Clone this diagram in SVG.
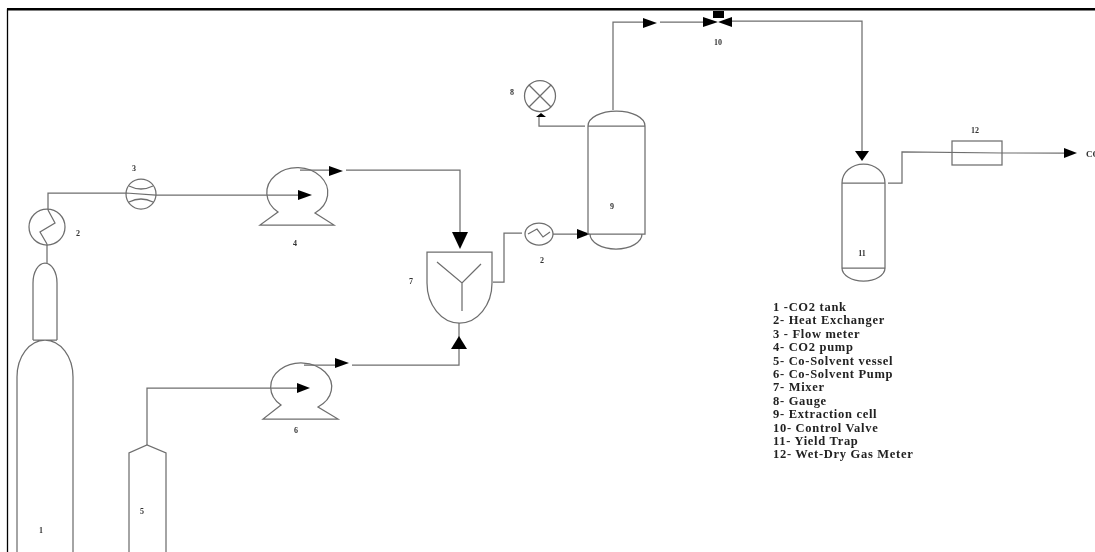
<svg xmlns="http://www.w3.org/2000/svg" width="1095" height="552" viewBox="0 0 1095 552">
<style>
.l{fill:none;stroke:#6e6e6e;stroke-width:1.25}
.a{fill:#000;stroke:none}
.n{font:bold 8px "Liberation Serif",serif;fill:#333;text-anchor:middle}
.t{font:bold 12.5px "Liberation Serif",serif;fill:#222;letter-spacing:.7px}
</style>
<defs><filter id="b" x="-2%" y="-2%" width="104%" height="104%"><feGaussianBlur stdDeviation="0.35"/></filter></defs>
<rect width="1095" height="552" fill="#fff"/>
<g id="frame"><path d="M7.500 552V9.300H1095" fill="none" stroke="#000" stroke-width="1.300"/><path d="M7 9.300H1095" stroke="#000" stroke-width="2.500"/></g>
<g filter="url(#b)">
<g id="connectors">
<path class="l" d="M47 244V263"/>
<path class="l" d="M48 210V193H126L156 195H300"/>
<path class="a" d="M312 195L298 190V200Z"/>
<path class="l" d="M300 170H330M346 170H460V233"/>
<path class="a" d="M343 171L329 166V176Z"/>
<path class="a" d="M460 249L452 232H468Z"/>
<path class="l" d="M147 445V388H298"/>
<path class="a" d="M310 388L297 383V393Z"/>
<path class="l" d="M304 365H336M352 365H459V323"/>
<path class="a" d="M349 363L335 358V368Z"/>
<path class="a" d="M459 336L451 349H467Z"/>
<path class="l" d="M493 282H504V233H522M553 234H578"/>
<path class="a" d="M590 234L577 229V239Z"/>
<path class="l" d="M585 126H539V117"/>
<path class="a" d="M541 113L536 117H546Z"/>
<path class="l" d="M613 110V22H644M660 22H704M732 21H862V152"/>
<path class="a" d="M657 23L643 18V28Z"/>
<path class="a" d="M862 161L855 151H869Z"/>
<path class="l" d="M888 183H902V152L1002 153H1065"/>
<path class="a" d="M1077 153L1064 148V158Z"/>
</g>
<g id="n1"><path class="l" d="M17 552V377A28 37 0 0 1 73 377V552M33 340V283A12 20 0 0 1 57 283V340M33 340H57"/><text class="n" x="41" y="533">1</text></g>
<g id="n2a"><circle class="l" cx="47" cy="227" r="18"/><path class="l" d="M48 210L55 223L40 232L47 244"/><text class="n" x="78" y="236">2</text></g>
<g id="n2b"><ellipse class="l" cx="539" cy="234" rx="14" ry="11"/><path class="l" d="M528 234L537 229L543 237L550 232"/><text class="n" x="542" y="263">2</text></g>
<g id="n3"><circle class="l" cx="141" cy="194" r="15"/><path class="l" d="M129 186Q141 192 153 186M129 202Q141 196 153 202"/><text class="n" x="134" y="171">3</text></g>
<g id="n4"><path class="l" d="M278 212A30.500 25 0 1 1 315 213L334 225H260Z"/><text class="n" x="295" y="246">4</text></g>
<g id="n5"><path class="l" d="M129 552V453L147 445L166 453V552"/><text class="n" x="142" y="514">5</text></g>
<g id="n6"><path class="l" d="M281 405A30.500 24 0 1 1 318 407L338 419H263Z"/><text class="n" x="296" y="433">6</text></g>
<g id="n7"><path class="l" d="M427 252H492V283A32.500 40 0 0 1 427 283Z"/><path class="l" d="M437 262L462 283L481 264M462 283V311"/><text class="n" x="411" y="284">7</text></g>
<g id="n8"><circle class="l" cx="540" cy="96" r="15.500"/><path class="l" d="M529 85L551 107M551 85L529 107"/><text class="n" x="512" y="95">8</text></g>
<g id="n9"><path class="l" d="M588 234V126A28.500 15 0 0 1 645 126V234ZM588 126H645M590 234A26 15 0 0 0 642 234"/><text class="n" x="612" y="209">9</text></g>
<g id="n10"><path class="a" d="M703 17L718 22L703 27ZM732 17L718 22L732 27ZM713 11H724V18H713Z"/><text class="n" x="718" y="45">10</text></g>
<g id="n11"><path class="l" d="M842 268V183A21.500 19 0 0 1 885 183V268ZM842 183H885M842 268A21.500 13 0 0 0 885 268"/><text class="n" x="862" y="256">11</text></g>
<g id="n12"><rect class="l" x="952" y="141" width="50" height="24"/><text class="n" x="975" y="133">12</text></g>
<text class="n" x="1086" y="157" style="text-anchor:start;font-size:9px">CO</text>
<g id="legend" class="t">
<text x="773" y="311">1 -CO2 tank</text>
<text x="773" y="324.400">2- Heat Exchanger</text>
<text x="773" y="337.800">3 - Flow meter</text>
<text x="773" y="351.200">4- CO2 pump</text>
<text x="773" y="364.600">5- Co-Solvent vessel</text>
<text x="773" y="378">6- Co-Solvent Pump</text>
<text x="773" y="391.400">7- Mixer</text>
<text x="773" y="404.800">8- Gauge</text>
<text x="773" y="418.200">9- Extraction cell</text>
<text x="773" y="431.600">10- Control Valve</text>
<text x="773" y="445">11- Yield Trap</text>
<text x="773" y="458.400">12- Wet-Dry Gas Meter</text>
</g>
</g>
</svg>
